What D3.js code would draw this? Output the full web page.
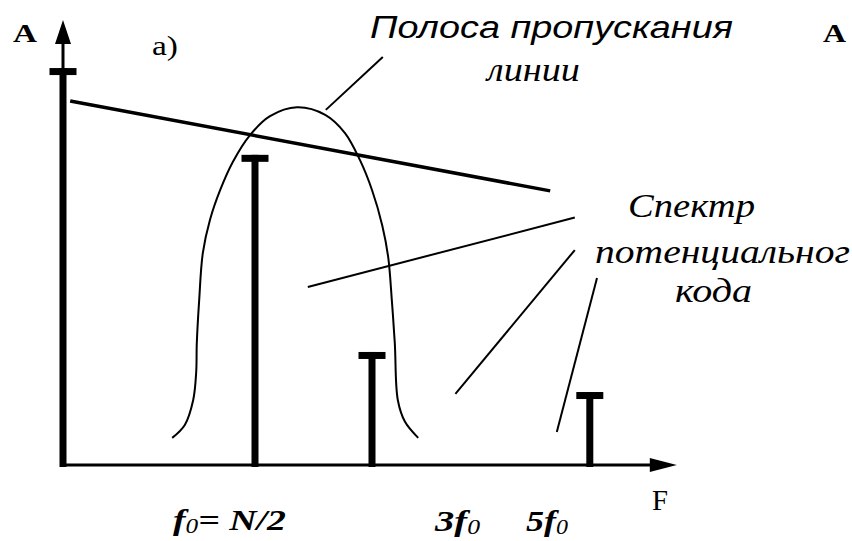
<!DOCTYPE html>
<html>
<head>
<title>Spectrum</title>
</head>
<body style="margin:0">
<script src="https://d3js.org/d3.v7.min.js"></script>
<script>
// spectral lines: position on F axis and amplitude A
var harmonicF = [0, 32, 51.5, 87.8];
var harmonicA = [89.2, 69.7, 25.4, 16.4];

// line passband (bell-shaped curve)
var bandF = [18.2, 20.3, 21.7, 22.2, 22.3, 22.7, 23.3, 24.5, 26.2, 28.3, 31.2, 34.5, 39.0,
             43.7, 47.0, 49.5, 51.5, 53.2, 54.2, 54.8, 55.3, 55.8, 57.0, 59.2];
var bandA = [6.1, 9.0, 14.6, 20.9, 27.4, 37.1, 47.6, 55.1, 61.8, 68.1, 74.2, 78.4, 80.4,
             78.7, 74.6, 68.5, 61.8, 53.9, 46.7, 37.1, 27.4, 14.6, 9.7, 6.1];

// falling envelope of the spectrum
var envF = [1.2, 81.2];
var envA = [81.8, 61.6];

// leader lines from labels to curves [f1, a1, f2, a2]
var leaders = [
  [43.8, 79.8, 53.3, 91.7],
  [40.8, 40.0, 85.3, 55.6],
  [65.4, 16.0, 85.3, 48.3],
  [82.3, 7.4, 89.0, 42.0]
];

// text labels
var labelText = ['A', 'A', 'а)', 'Полоса пропускания', 'линии', 'Спектр', 'потенциальног', 'кода', 'F'];

var xMax = 102.3, yMax = 100;

var width = 852, height = 541;
var x = d3.scaleLinear().domain([0, 100]).range([63, 663]);
var y = d3.scaleLinear().domain([0, 100]).range([465, 20]);

var svg = d3.select('body').append('svg')
    .attr('width', width)
    .attr('height', height);

// labels first, same way as a plain text page
var layout = [
  {x: 13,  y: 42,  fam: 'Liberation Serif', size: 26, w: 'bold',   s: 'normal', len: 24},
  {x: 823, y: 42,  fam: 'Liberation Serif', size: 26, w: 'bold',   s: 'normal', len: 23},
  {x: 152, y: 55,  fam: 'Liberation Serif', size: 28, w: 'normal', s: 'normal', len: 26},
  {x: 370, y: 38,  fam: 'Liberation Sans',  size: 31, w: 'normal', s: 'italic', len: 363},
  {x: 487, y: 81,  fam: 'Liberation Serif', size: 33, w: 'normal', s: 'italic', len: 93},
  {x: 628, y: 217, fam: 'Liberation Serif', size: 34, w: 'normal', s: 'italic', len: 127},
  {x: 595, y: 263, fam: 'Liberation Serif', size: 34, w: 'normal', s: 'italic', len: 255},
  {x: 675, y: 302, fam: 'Liberation Serif', size: 34, w: 'normal', s: 'italic', len: 77},
  {x: 652, y: 510, fam: 'Liberation Serif', size: 30, w: 'normal', s: 'normal', len: 16}
];

svg.selectAll('text.lbl')
    .data(labelText)
    .enter().append('text')
    .attr('class', 'lbl')
    .style('font-family', function(d, i) { return layout[i].fam; })
    .style('font-size', function(d, i) { return layout[i].size + 'px'; })
    .style('font-weight', function(d, i) { return layout[i].w; })
    .style('font-style', function(d, i) { return layout[i].s; })
    .text(function(d) { return d; })
    .attr('transform', function(d, i) {
      var L = layout[i];
      var w = this.getComputedTextLength();
      return 'translate(' + L.x + ',' + L.y + ') scale(' + (w ? L.len / w : 1) + ',1)';
    });

// frequency labels with subscript 0
var freqPre = ['', '3', '5'];
var freqPost = ['= N/2', '', ''];
var freqPos = [[173, 530, 113], [435, 531, 45], [526, 531, 42]];

freqPre.forEach(function(pre, i) {
  var t = svg.append('text')
      .style('font-family', 'Liberation Serif')
      .style('font-size', '30px')
      .style('font-weight', 'bold')
      .style('font-style', 'italic');
  t.append('tspan').text(pre + 'f');
  t.append('tspan').attr('dy', 3).style('font-size', '20px').style('font-weight', 'normal').text('0');
  if (freqPost[i]) t.append('tspan').attr('dy', -3).text(freqPost[i]);
  var w = t.node().getComputedTextLength();
  var p = freqPos[i];
  t.attr('transform', 'translate(' + p[0] + ',' + p[1] + ') scale(' + (w ? p[2] / w : 1) + ',1)');
});

// axes (no ticks, just lines + arrows)
svg.append('line')
    .attr('x1', x(0)).attr('y1', y(0))
    .attr('x2', x(xMax) - 20).attr('y2', y(0))
    .attr('stroke', '#000').attr('stroke-width', 3);
svg.append('path')
    .attr('d', 'M' + x(xMax) + ',' + y(0) + 'L' + (x(xMax) - 27) + ',' + (y(0) - 7) +
               'L' + (x(xMax) - 27) + ',' + (y(0) + 7) + 'Z')
    .attr('fill', '#000');

svg.append('line')
    .attr('x1', x(0)).attr('y1', y(0))
    .attr('x2', x(0)).attr('y2', y(yMax) + 18)
    .attr('stroke', '#000').attr('stroke-width', 3);
svg.append('path')
    .attr('d', 'M' + x(0) + ',' + y(yMax) + 'L' + (x(0) - 8) + ',' + (y(yMax) + 24) +
               'L' + (x(0) + 8) + ',' + (y(yMax) + 24) + 'Z')
    .attr('fill', '#000');

// spectral lines
var bars = harmonicF.map(function(f, i) { return {f: f, a: harmonicA[i]}; });
var g = svg.append('g');
g.selectAll('.stem')
    .data(bars)
    .enter().append('rect')
    .attr('class', 'stem')
    .attr('x', function(d) { return x(d.f) - 3.5; })
    .attr('y', function(d) { return y(d.a); })
    .attr('width', 7)
    .attr('height', function(d) { return y(0) - y(d.a) + 2; })
    .attr('fill', '#000');
g.selectAll('.cap')
    .data(bars)
    .enter().append('rect')
    .attr('class', 'cap')
    .attr('x', function(d) { return x(d.f) - 13.5; })
    .attr('y', function(d) { return y(d.a); })
    .attr('width', 27)
    .attr('height', 7)
    .attr('fill', '#000');

// passband curve
var band = bandF.map(function(f, i) { return [f, bandA[i]]; });
svg.append('path')
    .datum(band)
    .attr('d', d3.line()
        .x(function(d) { return x(d[0]); })
        .y(function(d) { return y(d[1]); })
        .curve(d3.curveCatmullRom))
    .attr('fill', 'none')
    .attr('stroke', '#000')
    .attr('stroke-width', 2);

// envelope
svg.append('line')
    .attr('x1', x(envF[0])).attr('y1', y(envA[0]))
    .attr('x2', x(envF[1])).attr('y2', y(envA[1]))
    .attr('stroke', '#000').attr('stroke-width', 3.5);

// leaders
svg.selectAll('.leader')
    .data(leaders)
    .enter().append('line')
    .attr('class', 'leader')
    .attr('x1', function(d) { return x(d[0]); })
    .attr('y1', function(d) { return y(d[1]); })
    .attr('x2', function(d) { return x(d[2]); })
    .attr('y2', function(d) { return y(d[3]); })
    .attr('stroke', '#000').attr('stroke-width', 2);
</script>
</body>
</html>
